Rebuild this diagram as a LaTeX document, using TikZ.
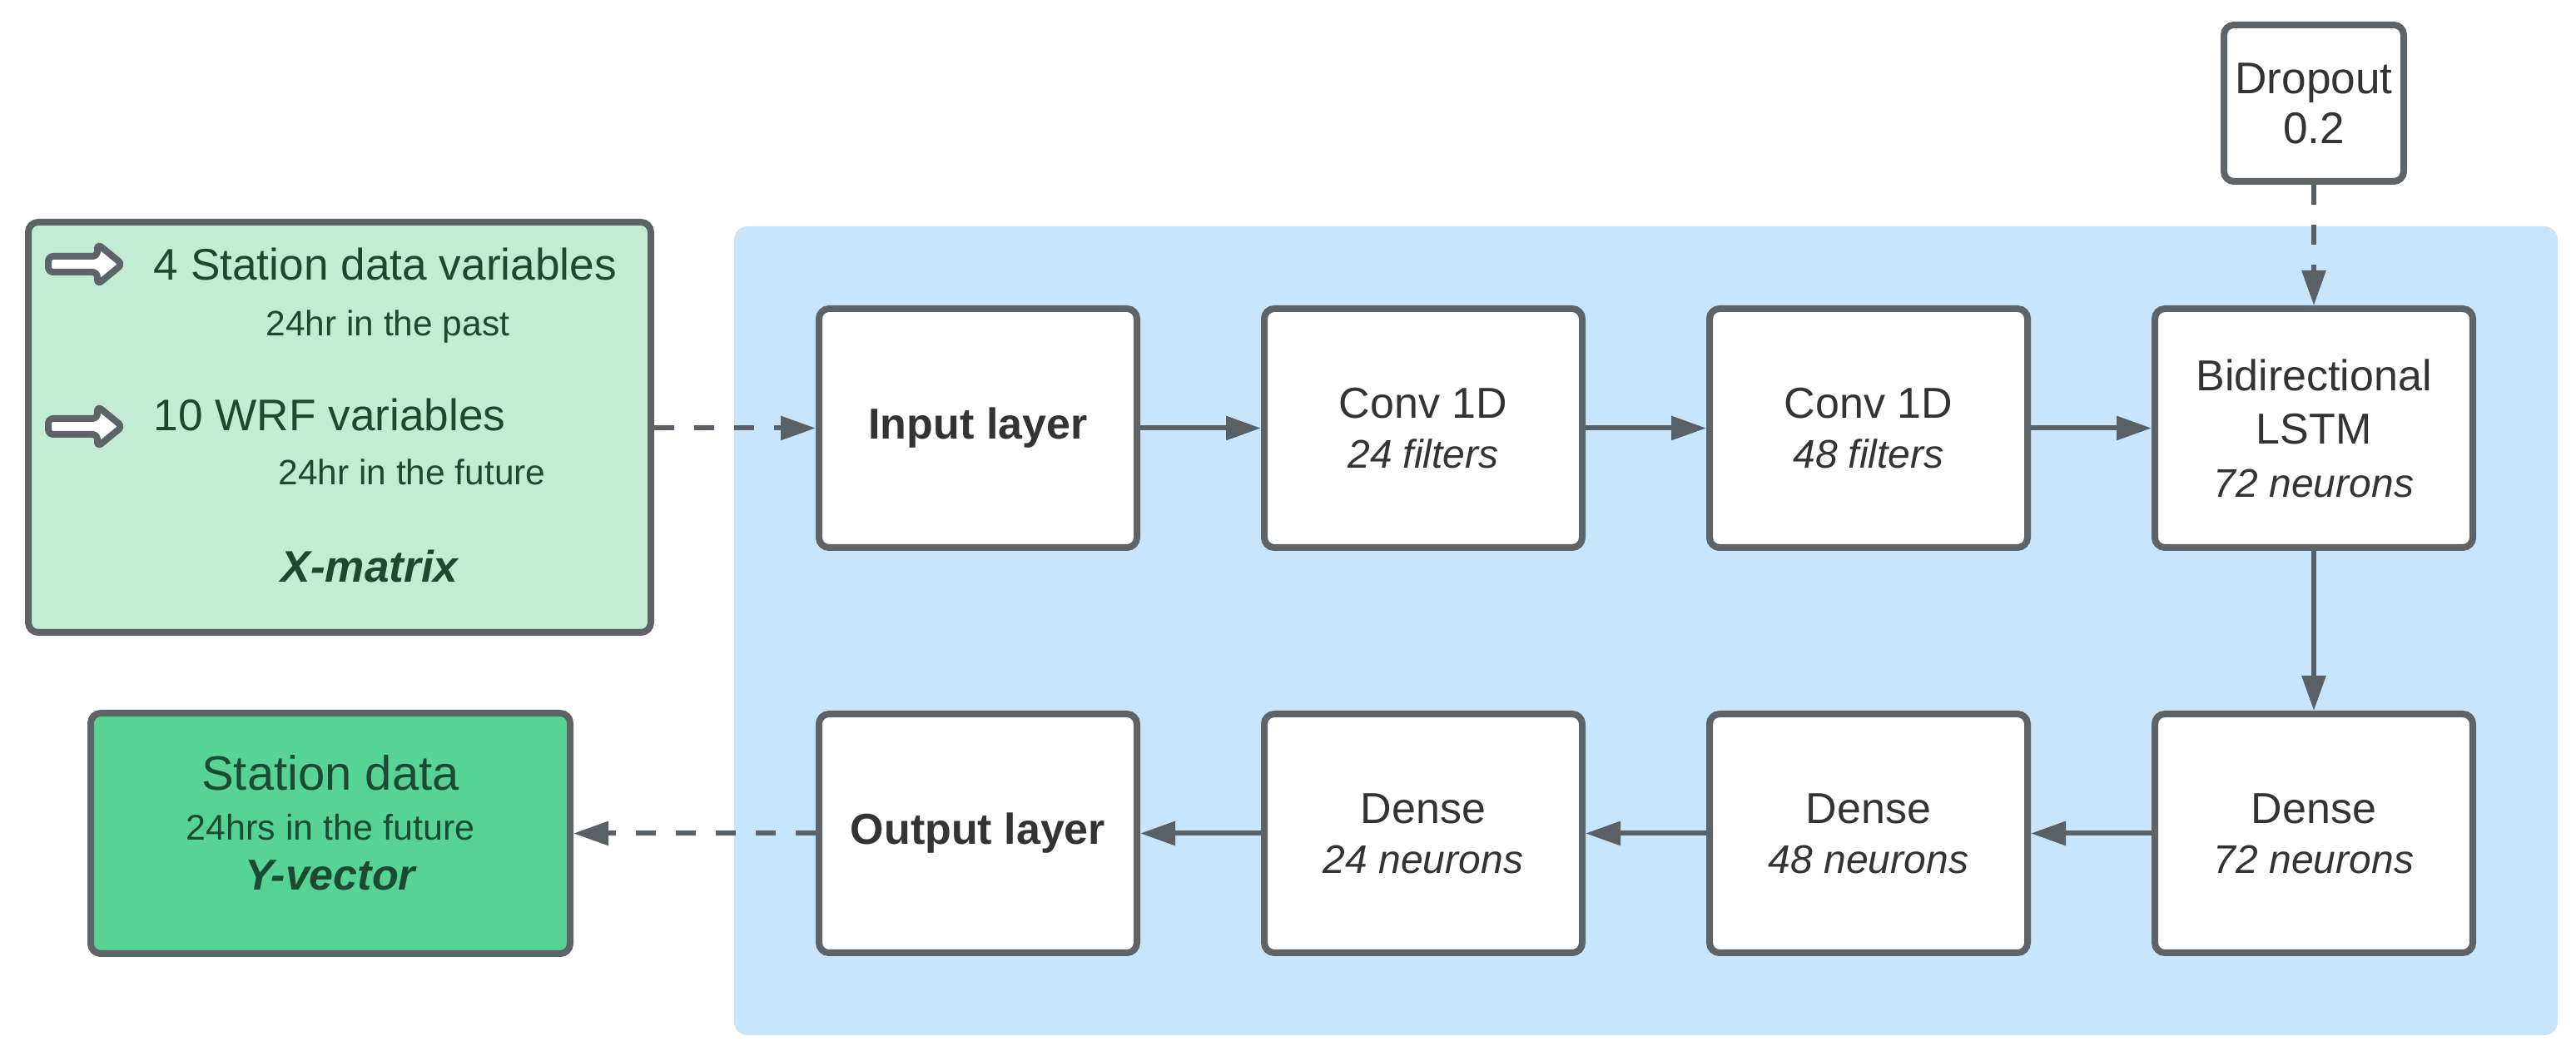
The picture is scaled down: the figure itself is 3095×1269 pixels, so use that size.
\documentclass[tikz,border=0pt]{standalone}
\usepackage{fontspec}
\setmainfont{Liberation Sans}
\usetikzlibrary{arrows.meta}
\definecolor{bgblue}{HTML}{C9E5FB}
\definecolor{lgreen}{HTML}{C2ECD4}
\definecolor{mgreen}{HTML}{57D394}
\definecolor{bordc}{HTML}{5D6367}
\definecolor{arrc}{HTML}{596066}
\definecolor{txtc}{HTML}{333333}
\definecolor{gtxt}{HTML}{1C4A30}
\newcommand\fsz[2]{\fontsize{#1}{#2}\selectfont}
\begin{document}
\begin{tikzpicture}[x=0.25pt,y=-0.25pt,
 box/.style={draw=bordc, line width=2pt, rounded corners=3pt, inner sep=0pt, align=center},
 layer/.style={box, fill=white, minimum width=95.5pt, minimum height=71.75pt, text=txtc, font=\fsz{13}{15}},
 flow/.style={draw=arrc, line width=1.5pt, -{Triangle[length=10.5pt,width=7pt]}},
 dflow/.style={flow, dash pattern=on 6pt off 6pt},
 icon/.style={draw=bordc, line width=2pt, fill=white, rounded corners=1.5pt, line join=round},
 gtext/.style={text=gtxt, inner sep=0pt, anchor=base west}
]
\useasboundingbox (0,0) rectangle (3095,1269);
% background panel
\node[fill=bgblue, rounded corners=4pt, minimum width=547.75pt, minimum height=243pt, inner sep=0pt] (bg) at (1977.5,758) {};

% X-matrix
\node[box, fill=lgreen, minimum width=187pt, minimum height=123.25pt] (xm) at (408,513.5) {};
\draw[icon] (58,308) -- (117,308) -- (117,293) -- (147,317.5) -- (117,342) -- (117,327) -- (58,327) -- cycle;
\draw[icon] (58,503) -- (117,503) -- (117,488) -- (147,512.5) -- (117,537) -- (117,522) -- (58,522) -- cycle;
\node[gtext, font=\fsz{13.3}{15}] (t1) at (184,337) {4 Station data variables};
\node[gtext, font=\fsz{10.6}{13}] (t2) at (319,404) {24hr in the past};
\node[gtext, font=\fsz{13.3}{15}] (t3) at (184,518) {10 WRF variables};
\node[gtext, font=\fsz{10.6}{13}] (t4) at (334,583) {24hr in the future};
\node[text=gtxt, inner sep=0pt, anchor=base, font=\fsz{13.3}{15}\bfseries\itshape] (t5) at (444,700) {X-matrix};

% Y-vector
\node[box, fill=mgreen, minimum width=144pt, minimum height=72.25pt, text=gtxt, font=\fsz{13}{15}] (yv) at (397,1001.5) {};
\node[text=gtxt, inner sep=0pt, align=center, font=\fsz{13}{15}, anchor=base] (yvt) at (397,1070)
 {{\fsz{14.5}{15}Station data}\\{\fsz{10.75}{15}24hrs in the future}\\{\fsz{13}{15}\bfseries\itshape Y-vector}};

% Dropout
\node[box, fill=white, minimum width=54pt, minimum height=47pt, text=txtc, font=\fsz{13.3}{15}] (drop) at (2780,124) {Dropout\\0.2};

% layers row 1
\node[layer] (in) at (1175,514.5) {\bfseries Input layer};
\node[layer] (c1) at (1710,514.5) {Conv 1D\\{\fsz{12}{15}\itshape 24 filters}};
\node[layer] (c2) at (2245,514.5) {Conv 1D\\{\fsz{12}{15}\itshape 48 filters}};
\node[layer, font=\fsz{13}{16}] (lstm) at (2780,514.5) {Bidirectional\\LSTM\\{\fsz{12}{15}\itshape 72 neurons}};
% layers row 2
\node[layer] (out) at (1175,1001.5) {\bfseries Output layer};
\node[layer] (d24) at (1710,1001.5) {Dense\\{\fsz{12}{15}\itshape 24 neurons}};
\node[layer] (d48) at (2245,1001.5) {Dense\\{\fsz{12}{15}\itshape 48 neurons}};
\node[layer] (d72) at (2780,1001.5) {Dense\\{\fsz{12}{15}\itshape 72 neurons}};

% connectors
\draw[dflow] (xm.east |- in.west) -- (in.west);
\draw[flow] (in) -- (c1);
\draw[flow] (c1) -- (c2);
\draw[flow] (c2) -- (lstm);
\draw[dflow] (drop) -- (lstm);
\draw[flow] (lstm) -- (d72);
\draw[flow] (d72) -- (d48);
\draw[flow] (d48) -- (d24);
\draw[flow] (d24) -- (out);
\draw[dflow] (out) -- (yv);
\end{tikzpicture}
\end{document}
